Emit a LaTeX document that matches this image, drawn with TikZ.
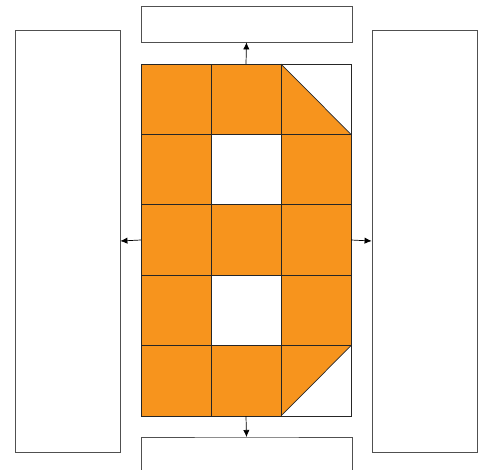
\documentclass[tikz,border=0pt]{standalone}
\usepackage{xcolor}
\usepackage{tikz}
\usetikzlibrary{arrows.meta, positioning}

\definecolor{letterorange}{RGB}{247,148,29}
\definecolor{boxgray}{RGB}{80,80,80}

\tikzset{
    sidebox/.style={draw=boxgray, line width=1.1pt, inner sep=0pt, fill=white},
    cellline/.style={draw=black!85, line width=1pt},
    flow/.style={-{Latex[length=10pt, width=9pt]}, line width=1pt, black}
}

\begin{document}
\begin{tikzpicture}[x=0.05cm, y=-0.05cm]
    \useasboundingbox (0,0) rectangle (478,470);

    % kassetten rundherum
    \node[sidebox, minimum width=10.55cm, minimum height=1.8cm] (topbox) at (246.5,24) {};
    \node[sidebox, minimum width=5.25cm, minimum height=21.1cm] (leftbox) at (67.5,241) {};
    \node[sidebox, minimum width=5.25cm, minimum height=21.1cm] (rightbox) at (424.5,241) {};
    \coordinate (botleft) at (141,472);
    \coordinate (botright) at (352,472);
    \draw[boxgray, line width=1.1pt] (botleft) |- (246.5,437) coordinate (bottomtop) -| (botright);

    % buchstabe aus quadraten
    \node[minimum width=10.5cm, minimum height=17.6cm, inner sep=0pt] (letter) at (246,240) {};
    \foreach \c in {0,1,2} {
        \foreach \r in {0,...,4} {
            \fill[letterorange] (141+70*\c,64+70.4*\r) rectangle ++(70,70.4);
        }
    }
    \fill[white] (211,134.4) rectangle ++(70,70.4);
    \fill[white] (211,275.2) rectangle ++(70,70.4);
    \fill[white] (281,64) -- (351,64) -- (351,134.4) -- cycle;
    \fill[white] (281,416) -- (351,416) -- (351,345.6) -- cycle;

    % gitterlinien
    \foreach \c in {211,281} {
        \draw[cellline] (\c,64) -- (\c,416);
    }
    \foreach \r in {1,...,4} {
        \draw[cellline] (141,64+70.4*\r) -- (351,64+70.4*\r);
    }
    \draw[cellline] (281,64) -- (351,134.4);
    \draw[cellline] (281,416) -- (351,345.6);
    \draw[cellline] (letter.north west) rectangle (letter.south east);

    % pfeile
    \draw[flow] (letter.north) -- (topbox.south);
    \draw[flow] (letter.south) -- (bottomtop);
    \draw[flow] (letter.west) -- (leftbox.east);
    \draw[flow] (letter.east) -- (rightbox.west);
\end{tikzpicture}
\end{document}
